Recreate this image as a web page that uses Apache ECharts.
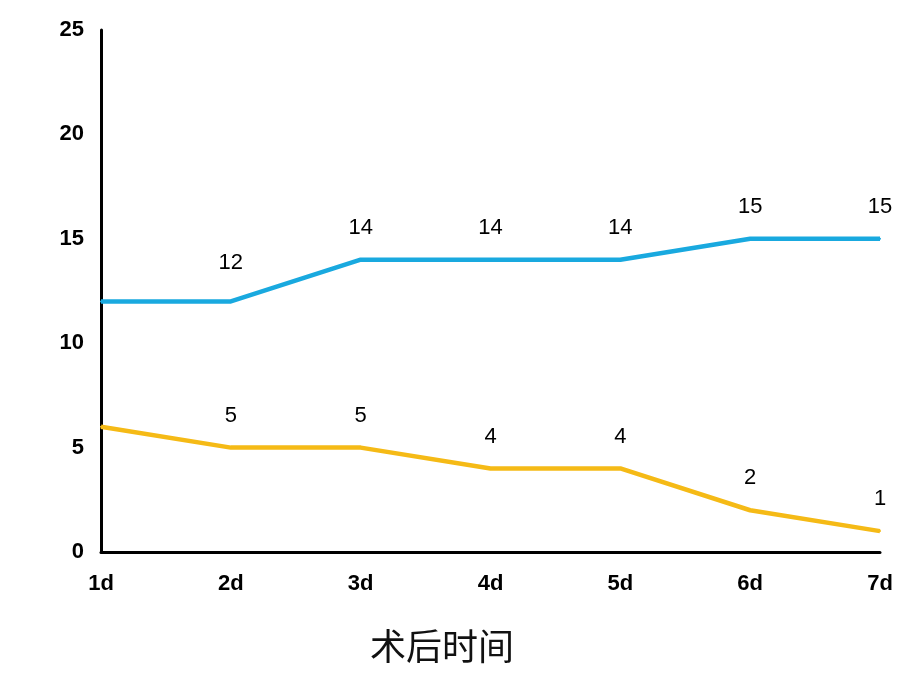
<!DOCTYPE html>
<html><head><meta charset="utf-8">
<script src="https://cdn.jsdelivr.net/npm/echarts@6/dist/echarts.min.js"></script>
<style>html,body{margin:0;padding:0;background:#fff;overflow:hidden}#c{width:903px;height:677px}</style>
</head><body><div id="c"></div>
<script>
const categories = ['1d','2d','3d','4d','5d','6d','7d'];
const blueValues = [12,12,14,14,14,15,15];
const yellowValues = [6,5,5,4,4,2,1];
const yTicks = [0,5,10,15,20,25];
const xAxisName = '术后时间';

function withLabels(vals, extra){
  return vals.map((v,i)=> i===0 ? {value:v, label:{show:false}} :
    (extra && extra[i] ? {value:v, label:extra[i]} : {value:v}));
}
const labelStyle = {show:true,position:'top',distance:20,color:'#000',fontSize:22,fontFamily:'Liberation Sans'};
const chart = echarts.init(document.getElementById('c'));
chart.setOption({
  animation:false,
  grid:{left:101,right:23,top:30,bottom:125,containLabel:false},
  xAxis:{type:'category',data:categories,boundaryGap:false,
    axisLine:{lineStyle:{color:'#000',width:3}},axisTick:{show:false},
    axisLabel:{color:'#000',fontSize:22,fontWeight:'bold',fontFamily:'Liberation Sans',margin:21}},
  yAxis:{type:'value',min:yTicks[0],max:yTicks[yTicks.length-1],interval:5,
    axisLine:{show:true,lineStyle:{color:'#000',width:3}},axisTick:{show:false},splitLine:{show:false},
    axisLabel:{color:'#000',fontSize:22,fontWeight:'bold',fontFamily:'Liberation Sans',margin:17}},
  graphic:[{type:'text',left:370,top:628,style:{text:xAxisName,fontSize:36,fill:'#111',fontFamily:'Noto Sans CJK SC',fontWeight:'normal'}}],
  series:[
    {type:'line',data:withLabels(blueValues,{1:{distance:27}}),symbol:'circle',symbolSize:2,showSymbol:true,showAllSymbol:true,
     itemStyle:{color:'#19A9DF',borderWidth:0},lineStyle:{color:'#19A9DF',width:4.5},label:labelStyle},
    {type:'line',data:withLabels(yellowValues),symbol:'circle',symbolSize:2,showSymbol:true,showAllSymbol:true,
     itemStyle:{color:'#F5BA16',borderWidth:0},lineStyle:{color:'#F5BA16',width:4.5},label:labelStyle}
  ]
});
</script></body></html>
